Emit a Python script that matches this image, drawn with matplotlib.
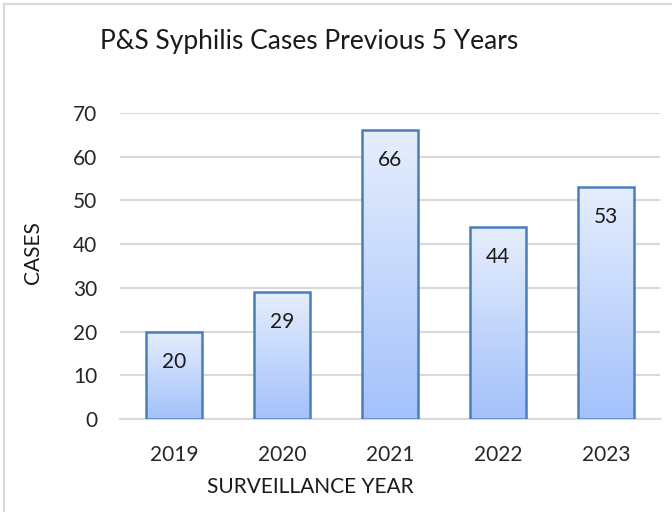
import matplotlib
matplotlib.use("Agg")
import matplotlib.pyplot as plt
import numpy as np
from matplotlib.colors import LinearSegmentedColormap
from matplotlib.lines import Line2D

years = ["2019", "2020", "2021", "2022", "2023"]
cases = [20, 29, 66, 44, 53]
yticks = [0, 10, 20, 30, 40, 50, 60, 70]

title = "P&S Syphilis Cases Previous 5 Years"
xlabel = "SURVEILLANCE YEAR"
ylabel = "CASES"

plt.rcParams['font.family'] = ['Lato', 'DejaVu Sans']

W, H, DPI = 672, 512, 100
fig = plt.figure(figsize=(W / DPI, H / DPI), dpi=DPI)
fig.patch.set_facecolor("white")

# plot area in pixel coordinates
left, right, bottom, top = 120, 660, 419, 113
ax = fig.add_axes([left / W, 1 - bottom / H, (right - left) / W, (bottom - top) / H])

x = np.arange(len(years))
width = 0.52
cmap = LinearSegmentedColormap.from_list("g", ["#a3c1fb", "#e6eefd"])
grad = np.linspace(0, 1, 256).reshape(-1, 1)

bars = ax.bar(x, cases, width=width, color="none", edgecolor="#4a7ebb",
              linewidth=1.8, zorder=3)
for b in bars:
    x0, y0 = b.get_x(), b.get_y()
    w, h = b.get_width(), b.get_height()
    im = ax.imshow(grad, cmap=cmap, aspect="auto", origin="lower",
                   extent=[x0, x0 + w, y0, y0 + h], zorder=2)
    im.set_clip_path(b)

for xi, v in zip(x, cases):
    ax.annotate(str(v), (xi, v), xytext=(0, -30 * 72 / DPI), textcoords="offset points",
                ha="center", va="center", fontsize=15, color="#1a1a1a", zorder=4)

ax.set_xlim(-0.5, len(years) - 0.5)
ax.set_ylim(0, 70)
ax.set_yticks(yticks)
ax.set_xticks(x)
ax.set_xticklabels(years)
ax.yaxis.grid(True, color="#d9d9d9", linewidth=1.5, zorder=0)
ax.set_axisbelow(True)
for s in ["top", "right", "left"]:
    ax.spines[s].set_visible(False)
ax.spines["bottom"].set_color("#d9d9d9")
ax.spines["bottom"].set_linewidth(1.5)
ax.tick_params(axis="both", length=0, labelsize=15, colors="#262626")
ax.tick_params(axis="y", pad=16.5)
ax.tick_params(axis="x", pad=18.5)

fig.text(100 / W, 1 - 42 / H, title, fontsize=19, color="#1a1a1a", ha="left", va="center")
fig.text(310 / W, 1 - 487 / H, xlabel, fontsize=15, color="#1a1a1a", ha="center", va="center")
fig.text(33 / W, 1 - 253 / H, ylabel, fontsize=15, color="#1a1a1a", ha="center", va="center",
         rotation=90)

# outer border (left and top visible)
fig.add_artist(Line2D([4 / W, 4 / W], [0, 1 - 4 / H], transform=fig.transFigure,
                      color="#d9d9d9", linewidth=1.5))
fig.add_artist(Line2D([4 / W, 1], [1 - 4 / H, 1 - 4 / H], transform=fig.transFigure,
                      color="#d9d9d9", linewidth=1.5))

fig.savefig("out.png", dpi=DPI, facecolor="white")
